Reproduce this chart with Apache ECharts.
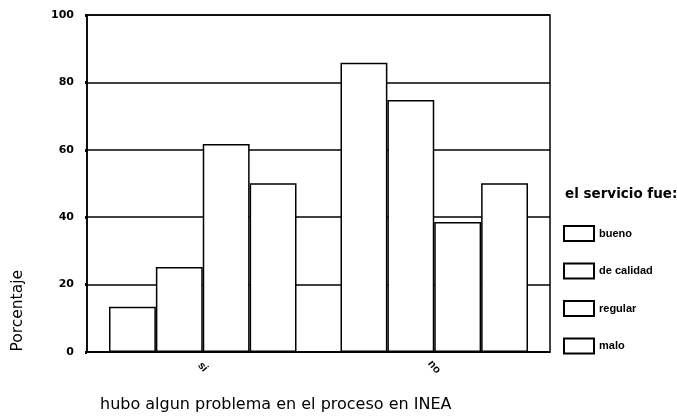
<!DOCTYPE html>
<html>
<head>
<meta charset="utf-8">
<script src="https://cdn.jsdelivr.net/npm/echarts@6/dist/echarts.min.js"></script>
<style>
  html, body { margin: 0; padding: 0; background: #fff; }
  #main { width: 677px; height: 417px; }
</style>
</head>
<body>
<div id="main"></div>
<script>
  // categorias (si / no) y series por calidad del servicio
  const categorias = ['si', 'no'];
  const bueno = [13.4, 85.8];
  const deCalidad = [25.2, 74.8];
  const regular = [61.7, 38.6];
  const malo = [50.1, 50.1];
  const yTicks = [0, 20, 40, 60, 80, 100];

  const fuente = 'Liberation Sans, Arial, sans-serif';
  const fuenteAncha = 'DejaVu Sans, sans-serif';
  const barStyle = { color: '#fff', borderColor: '#000', borderWidth: 1.5 };

  function serie(nombre, datos) {
    return {
      name: nombre,
      type: 'bar',
      data: datos,
      barGap: '0%',
      barCategoryGap: '19%',
      itemStyle: barStyle,
      emphasis: { disabled: true }
    };
  }

  const chart = echarts.init(document.getElementById('main'));
  chart.setOption({
    animation: false,
    backgroundColor: '#fff',
    title: {
      text: 'el servicio fue:',
      left: 560,
      top: 182,
      textStyle: { fontFamily: fuenteAncha, fontSize: 13.5, fontWeight: 'bold', color: '#000' }
    },
    legend: {
      orient: 'vertical',
      left: 563,
      top: 225,
      padding: 0,
      itemWidth: 30,
      itemHeight: 15,
      itemGap: 20.5,
      icon: 'rect',
      selectedMode: false,
      textStyle: { fontFamily: fuente, fontSize: 11, fontWeight: 'bold', color: '#000' },
      data: ['bueno', 'de calidad', 'regular', 'malo']
    },
    grid: {
      left: 87,
      right: 127,
      top: 15,
      bottom: 65,
      show: true,
      borderColor: '#000',
      borderWidth: 1.5,
      backgroundColor: 'transparent'
    },
    xAxis: {
      type: 'category',
      data: categorias,
      axisLine: { lineStyle: { color: '#000', width: 1.5 } },
      axisTick: { alignWithLabel: true, length: 2, lineStyle: { color: '#000', width: 3 } },
      axisLabel: {
        rotate: -50, margin: 15, align: 'center', verticalAlign: 'middle',
        fontFamily: fuente, fontSize: 11, fontWeight: 'bold', color: '#000'
      }
    },
    yAxis: {
      type: 'value',
      min: yTicks[0],
      max: yTicks[yTicks.length - 1],
      interval: 20,
      axisLine: { show: true, lineStyle: { color: '#000', width: 1.5 } },
      axisTick: { show: true, length: 2, lineStyle: { color: '#000', width: 3 } },
      splitLine: { lineStyle: { color: '#000', width: 1.5 } },
      axisLabel: { margin: 13, fontFamily: fuenteAncha, fontSize: 11, fontWeight: 'bold', color: '#000' }
    },
    graphic: [
      {
        type: 'text',
        left: 10,
        top: 270,
        rotation: Math.PI / 2,
        style: { text: 'Porcentaje', font: '15.5px ' + fuenteAncha, fill: '#000' }
      },
      {
        type: 'text',
        left: 100,
        top: 397,
        style: { text: 'hubo algun problema en el proceso en INEA', font: '16px ' + fuenteAncha, fill: '#000' }
      }
    ],
    series: [
      serie('bueno', bueno),
      serie('de calidad', deCalidad),
      serie('regular', regular),
      serie('malo', malo)
    ]
  });
</script>
</body>
</html>
